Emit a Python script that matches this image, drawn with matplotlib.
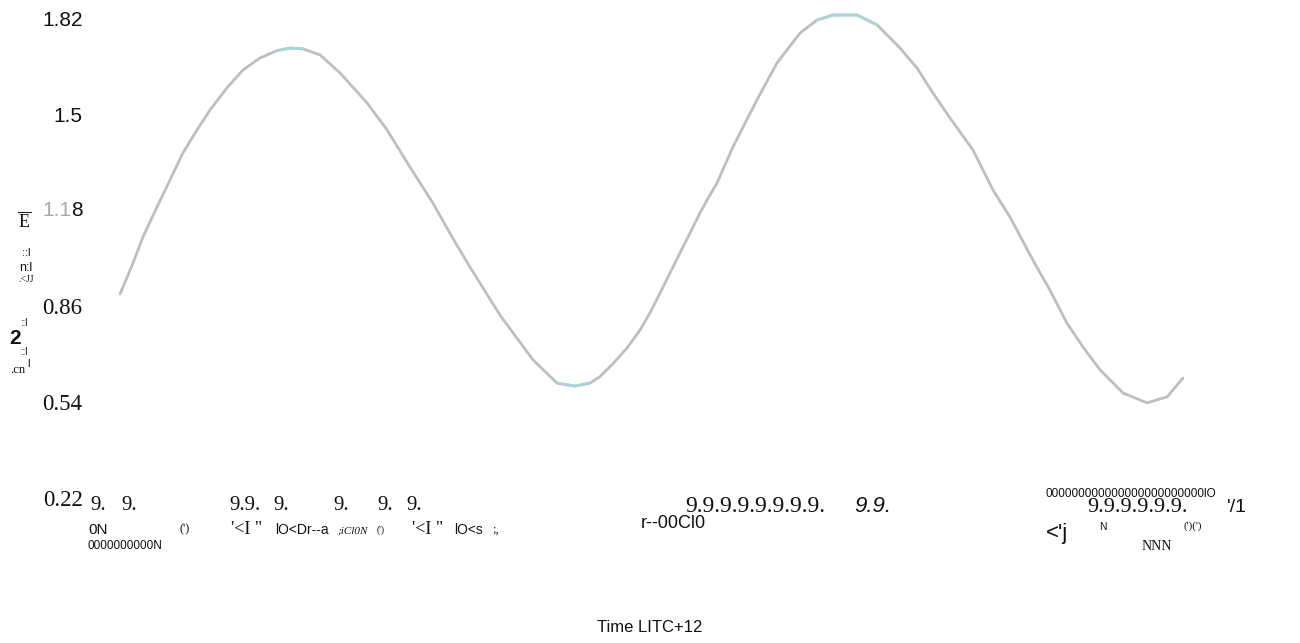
import numpy as np
import matplotlib.pyplot as plt

# series (time in hours, value in the y units)
hours = [0.00, 0.14, 0.61, 1.08, 1.74, 2.35, 2.96, 3.62, 4.23, 5.03, 5.79, 6.59, 7.38,
         8.00, 8.61, 9.41, 10.35, 11.62, 12.56, 13.64, 14.72, 15.66, 16.46, 17.87, 19.43,
         20.56, 21.40, 22.11, 22.58, 23.19, 23.85, 24.46, 24.93, 25.40, 25.87, 26.34,
         26.81, 27.28, 27.61, 28.08, 28.83, 29.96, 30.90, 31.99, 32.78, 33.54, 34.67,
         35.61, 36.69, 37.49, 38.24, 39.04, 40.12, 41.06, 41.86, 42.94, 43.74, 44.54,
         45.30, 46.10, 47.18, 48.31, 49.25, 50.00]
values = [0.900, 0.923, 1.003, 1.090, 1.190, 1.280, 1.370, 1.447, 1.513, 1.587, 1.647,
          1.687, 1.711, 1.720, 1.717, 1.697, 1.637, 1.537, 1.447, 1.323, 1.203, 1.085,
          0.990, 0.830, 0.680, 0.603, 0.593, 0.603, 0.625, 0.668, 0.720, 0.780, 0.837,
          0.903, 0.970, 1.037, 1.103, 1.170, 1.213, 1.270, 1.390, 1.547, 1.670, 1.770,
          1.813, 1.830, 1.830, 1.797, 1.720, 1.653, 1.570, 1.487, 1.380, 1.247, 1.157,
          1.013, 0.913, 0.803, 0.723, 0.647, 0.570, 0.537, 0.557, 0.620]

# stretches where the line turns pale blue (hours)
pale_spans = [(7.3, 8.7), (20.5, 22.2), (32.7, 35.7), (47.9, 48.9)]

y_ticks = [0.22, 0.54, 0.86, 1.18, 1.5, 1.82]
y_tick_labels = ['0.22', '0.54', '0.86', '', '1.5', '1.82']
y_tick_serif = [True, True, True, False, False, False]

# garbled tick text as it appears under the axis: (text, x px, y px, size, family, style)
x_tick_bits = [
    ('9.', 90, 505, 15, 'serif', 'normal'), ('9.', 121, 505, 15, 'serif', 'normal'),
    ('9.9.', 229, 505, 15, 'serif', 'normal'), ('9.', 273, 505, 15, 'serif', 'normal'),
    ('9.', 333, 505, 15, 'serif', 'normal'), ('9.', 377, 505, 15, 'serif', 'normal'),
    ('9.', 406, 505, 15, 'serif', 'normal'),
    ('0N', 88, 530, 11, 'sans-serif', 'normal'), ("(')", 179, 529, 9, 'serif', 'normal'),
    ("'<I \"", 231, 530, 13, 'serif', 'normal'), ('lO<Dr--a', 275, 530, 10, 'sans-serif', 'normal'),
    (';iCl0N', 337, 531, 8, 'serif', 'italic'), ("(')", 377, 530, 7, 'serif', 'normal'),
    ("'<I \"", 412, 530, 13, 'serif', 'normal'), ('lO<s', 454, 530, 10, 'sans-serif', 'normal'),
    (';,', 492, 530, 9, 'serif', 'normal'),
    ('0000000000N', 88, 546, 8.5, 'sans-serif', 'normal'),
    ('r--00Cl0', 641, 523, 13, 'sans-serif', 'normal'),
    ('9.9.9.9.9.9.9.9.', 685, 506, 17, 'serif', 'normal'),
    ('9.9.', 854, 506, 16, 'sans-serif', 'italic'),
    ('000000000000000000000000lO', 1046, 494, 8.5, 'sans-serif', 'normal'),
    ('9.9.9.9.9.9.', 1087, 508, 16, 'serif', 'normal'),
    ("'/1", 1227, 507, 14, 'sans-serif', 'normal'),
    ("<'j", 1046, 533, 16, 'sans-serif', 'normal'),
    ('N', 1099, 527, 7.5, 'sans-serif', 'normal'),
    ('NNN', 1142, 546, 10, 'serif', 'normal'),
    ("(')(')", 1183, 526, 8, 'serif', 'normal'),
]

# garbled y label pieces: (text, x px, y px, size, family, weight)
y_label_bits = [
    ('E', 24, 222, 13, 'serif', 'normal'),
    ('::l', 26, 253, 8, 'sans-serif', 'normal'),
    ('n:l', 26, 268, 9, 'sans-serif', 'normal'),
    ('.<JJ', 26, 280, 7, 'serif', 'normal'),
    ('2', 15, 338, 15, 'sans-serif', 'bold'),
    ('::l', 24, 323, 7, 'sans-serif', 'normal'),
    ('::l', 24, 352, 7, 'sans-serif', 'normal'),
    ('.cn', 18, 370, 9, 'serif', 'normal'),
    ('l', 28, 364, 8, 'sans-serif', 'normal'),
]

x_label = 'Time LITC+12'

W, H = 1300, 643
fig = plt.figure(figsize=(W / 100, H / 100), dpi=100)
ax = fig.add_axes([120 / W, 1 - 498 / H, (1183 - 120) / W, (498 - 18) / H])

v = np.array(values)
t = np.array(hours)
ax.plot(t, v, color='#bcbfbf', linewidth=2.0, clip_on=False,
        solid_capstyle='round', solid_joinstyle='round')
# the flat tops and bottoms come out in a pale blue
pale = np.zeros(len(t), dtype=bool)
for a, b in pale_spans:
    pale |= (t >= a) & (t <= b)
ax.plot(t, np.where(pale, v, np.nan), color='#a9d4dc', linewidth=2.0, clip_on=False,
        solid_capstyle='round')

ax.set_xlim(0, 50)
ax.set_ylim(0.22, 1.82)
for s in ax.spines.values():
    s.set_visible(False)
ax.set_xticks([])
ax.set_yticks(y_ticks)
ax.set_yticklabels(y_tick_labels)
pad = 27
ax.tick_params(axis='y', length=0, pad=pad)
for lab, serif in zip(ax.get_yticklabels(), y_tick_serif):
    if serif:
        lab.set_fontfamily('Liberation Serif')
        lab.set_fontsize(16.5)
    else:
        lab.set_fontfamily('Liberation Sans')
        lab.set_fontsize(15)
    lab.set_color('#111111')

# the 1.18 label: first part pale grey, last digit dark
eight_w = 0.556 * 15
ax.annotate('1.1', xy=(0, 1.18), xycoords=('axes fraction', 'data'),
            xytext=(-pad - eight_w, 0), textcoords='offset points', ha='right', va='center',
            fontsize=15, family='Liberation Sans', color='#a8a8a8')
ax.annotate('8', xy=(0, 1.18), xycoords=('axes fraction', 'data'),
            xytext=(-pad - eight_w, 0), textcoords='offset points', ha='left', va='center',
            fontsize=15, family='Liberation Sans', color='#111111')

fams = {'serif': 'Liberation Serif', 'sans-serif': 'Liberation Sans'}
for txt, x, y, size, fam, style in x_tick_bits:
    fig.text(x / W, 1 - y / H, txt, fontsize=size, family=fams[fam], style=style,
             ha='left', va='center', color='#111111')

for txt, x, y, size, fam, weight in y_label_bits:
    fig.text(x / W, 1 - y / H, txt, fontsize=size, family=fams[fam], weight=weight,
             ha='center', va='center', color='#111111')
# the bar over the E
fig.add_artist(plt.Line2D([18 / W, 31 / W], [1 - 212 / H, 1 - 212 / H],
                          color='#222222', linewidth=0.8))

fig.text(650 / W, 1 - 628 / H, x_label, fontsize=12, family='Liberation Sans',
         ha='center', va='center', color='#111111')

fig.savefig('out.png', dpi=100, facecolor='white')
